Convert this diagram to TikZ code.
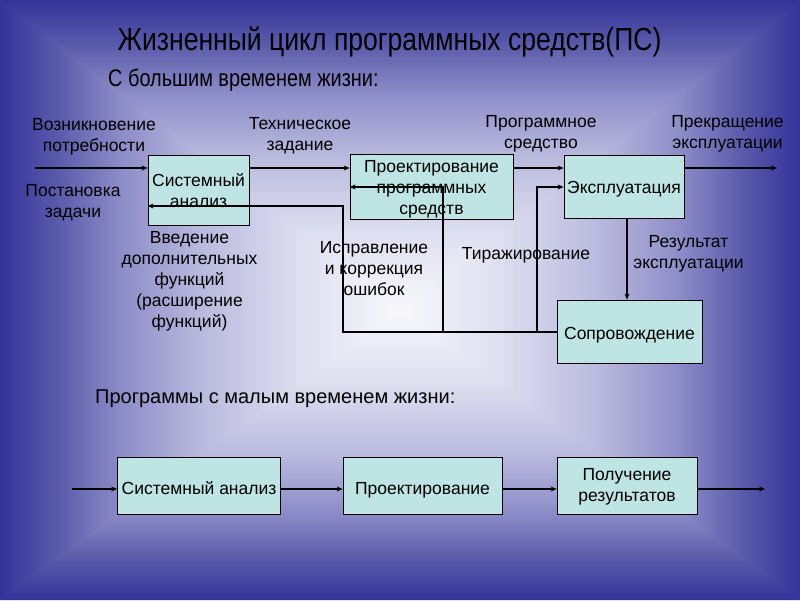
\documentclass[tikz,border=0pt]{standalone}
\usepackage{fontspec}
\setmainfont{Liberation Sans}
\newfontfamily\narrowfont{Liberation Sans}[FakeStretch=0.83]
\usetikzlibrary{arrows.meta}
\definecolor{bgA}{RGB}{51,51,154}
\definecolor{bgB}{RGB}{92,92,172}
\definecolor{bgC}{RGB}{140,140,200}
\definecolor{bgD}{RGB}{185,185,222}
\definecolor{bgE}{RGB}{222,222,240}
\definecolor{bgF}{RGB}{248,248,252}
\definecolor{boxfill}{RGB}{190,228,228}
\pgfdeclarehorizontalshading{edgeshade}{100bp}{color(0bp)=(bgA); color(25bp)=(bgA); color(32.5bp)=(bgB); color(40bp)=(bgC); color(50bp)=(bgD); color(62.5bp)=(bgE); color(75bp)=(bgF); color(100bp)=(bgF)}
\newcommand\txtf{\fontsize{17.5pt}{21pt}\selectfont}
\begin{document}
\begin{tikzpicture}[x=1pt,y=-1pt,
  box/.style={draw=black, line width=0.8pt, fill=boxfill, inner sep=1pt, align=center, font=\txtf},
  lbl/.style={align=center, font=\txtf, inner sep=0pt},
  conn/.style={line width=1.1pt, draw=black},
  arr/.style={conn, -{Stealth[length=6pt,width=5pt]}}]
% background
\path[use as bounding box] (0,0) rectangle (800,600);
\shade[shading=edgeshade] (0,0) -- (400,310) -- (0,600) -- cycle;
\shade[shading=edgeshade, shading angle=180] (800,0) -- (400,310) -- (800,600) -- cycle;
\shade[shading=edgeshade, shading angle=-90] (0,0) -- (800,0) -- (800,1.5) -- (401.5,310) -- (398.5,310) -- (0,1.5) -- cycle;
\shade[shading=edgeshade, shading angle=90] (0,600) -- (800,600) -- (800,598.5) -- (401.5,310) -- (398.5,310) -- (0,598.5) -- cycle;
% titles
\node[anchor=base, font=\narrowfont\fontsize{32pt}{36pt}\selectfont, inner sep=0pt] (title) at (389.5,50) {Жизненный цикл программных средств(ПС)};
\node[anchor=base west, font=\narrowfont\fontsize{24pt}{28pt}\selectfont, inner sep=0pt] (sub1) at (108,86) {С большим временем жизни:};
\node[anchor=base west, font=\fontsize{20pt}{24pt}\selectfont, inner sep=0pt] (sub2) at (95,403) {Программы с малым временем жизни:};
% boxes
\node[box, minimum width=101pt, minimum height=70pt] (sa) at (198.5,190) {\rule{0pt}{15pt}Системный\\анализ};
\node[box, minimum width=163pt, minimum height=63pt] (pr) at (431.5,186.5) {\rule{0pt}{17.5pt}Проектирование\\программных\\средств};
\node[box, minimum width=120pt, minimum height=63pt, text height=17pt, text depth=3.4pt] (ex) at (624,186.5) {Эксплуатация};
\node[box, minimum width=145pt, minimum height=63pt, text height=19pt, text depth=3.4pt] (sop) at (629.5,331.5) {Сопровождение};
\node[box, minimum width=163pt, minimum height=57pt, text height=20pt, text depth=3pt] (b1) at (199,485.5) {Системный анализ};
\node[box, minimum width=159pt, minimum height=57pt, text height=20pt, text depth=3pt] (b2) at (422.5,485.5) {Проектирование};
\node[box, minimum width=140pt, minimum height=57pt] (b3) at (627,485.5) {\rule{0pt}{14pt}Получение\\результатов};
% labels
\node[lbl] (l1) at (94,137) {Возникновение\\потребности};
\node[lbl] (l2) at (73,202.5) {Постановка\\задачи};
\node[lbl] (l3) at (300,136) {Техническое\\задание};
\node[lbl] (l4) at (541,134) {Программное\\средство};
\node[lbl] (l5) at (727.5,134) {Прекращение\\эксплуатации};
\node[lbl] (l6) at (189.5,281) {Введение\\дополнительных\\функций\\(расширение\\функций)};
\node[lbl] (l7) at (374,268.5) {Исправление\\и коррекция\\ошибок};
\node[lbl] (l8) at (526,255) {Тиражирование};
\node[lbl] (l9) at (688.5,254) {Результат\\эксплуатации};
% coordinates
\coordinate (in1) at (35,168);
\coordinate (out1) at (777,168);
\coordinate (j1) at (343,332);
\coordinate (j2) at (443,332);
\coordinate (j3) at (537,332);
\coordinate (fb1) at (343,206);
\coordinate (fb2) at (443,187);
\coordinate (fb3) at (537,187);
\coordinate (in2) at (72,489);
\coordinate (out2) at (765,489);
% connectors
\draw[arr] (in1) -- (in1 -| sa.west);
\draw[arr] (sa.east |- in1) -- (pr.west |- in1);
\draw[arr] (pr.east |- in1) -- (ex.west |- in1);
\draw[arr] (ex.east |- in1) -- (out1);
\draw[arr] ([xshift=3pt]ex.south) -- ([xshift=3pt]ex.south |- sop.north);
\draw[arr] (sop.west |- j1) -- (j1) -- (fb1) -- (fb1 -| sa.west);
\draw[arr] (j2) -- (fb2) -- (fb2 -| pr.west);
\draw[arr] (j3) -- (fb3) -- (fb3 -| ex.west);
\draw[arr] (in2) -- (in2 -| b1.west);
\draw[arr] (b1.east |- in2) -- (b2.west |- in2);
\draw[arr] (b2.east |- in2) -- (b3.west |- in2);
\draw[arr] (b3.east |- in2) -- (out2);
\end{tikzpicture}
\end{document}
